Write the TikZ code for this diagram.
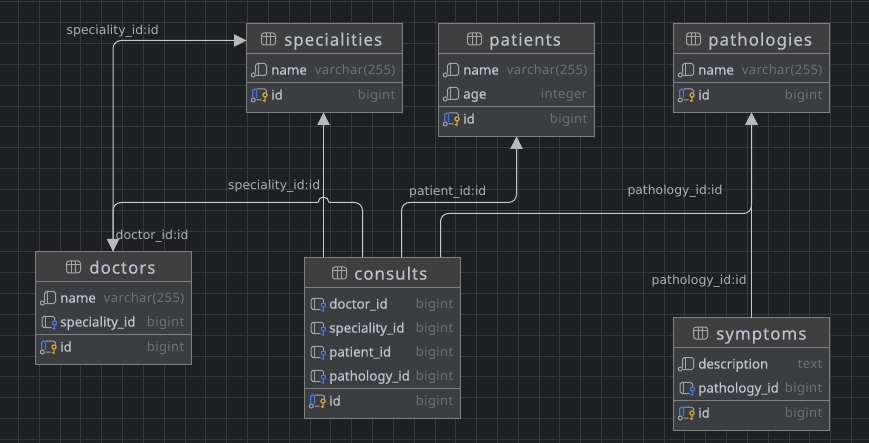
\documentclass[tikz,border=0pt]{standalone}
\usepackage{fontspec}
\usetikzlibrary{arrows.meta}
\setmainfont{Noto Sans}
\newfontfamily\titlefont[LetterSpace=6,FakeBold=0.2]{Noto Sans}
\newfontfamily\rowfont[FakeBold=0.35]{Noto Sans}
\newfontfamily\typefont[LetterSpace=3]{Noto Sans}
\newfontfamily\edgefont{DejaVu Sans}
\definecolor{bgc}{HTML}{1E1F22}
\definecolor{gridc}{HTML}{36383B}
\definecolor{bodyc}{HTML}{3B3D41}
\definecolor{headc}{HTML}{3F3F3F}
\definecolor{borderc}{HTML}{7F8082}
\definecolor{linec}{HTML}{C9CACC}
\definecolor{tipc}{HTML}{B8B9BB}
\definecolor{labelc}{HTML}{ABAEB3}
\definecolor{titlec}{HTML}{BCC3CE}
\definecolor{rowc}{HTML}{BFC4CC}
\definecolor{typec}{HTML}{6E7074}
\definecolor{iconc}{HTML}{A3A5A8}
\definecolor{bluec}{HTML}{4A78D8}
\definecolor{goldc}{HTML}{D5A63F}
\tikzset{
  x=1pt,y=-1pt,
  tbl/.style={draw=borderc,fill=bodyc,line width=1pt,anchor=north west,inner sep=0pt,outer sep=0pt},
  sepline/.style={draw=borderc,line width=1pt},
  titletext/.style={anchor=base west,inner sep=0pt,text=titlec,font=\titlefont\fontsize{16.9}{18}\selectfont},
  rowtext/.style={anchor=base west,inner sep=0pt,text=rowc,font=\rowfont\fontsize{13.3}{16}\selectfont},
  typetext/.style={anchor=base east,inner sep=0pt,text=typec,font=\typefont\fontsize{13}{16}\selectfont},
  edgelabel/.style={anchor=base west,inner sep=0pt,text=labelc,font=\edgefont\fontsize{12.4}{16}\selectfont},
  conn/.style={draw=linec,line width=1pt,rounded corners=8pt},
  tip/.style={-{Triangle[width=12.5pt,length=12.5pt,fill=tipc,color=tipc]}},
  tableicon/.pic={
    \draw[iconc,line width=1pt,rounded corners=2.5pt] (-7,-6) rectangle (7,6);
    \draw[iconc,line width=1pt] (-7,-2.2) -- (7,-2.2) (-2.4,-6) -- (-2.4,6) (2.4,-6) -- (2.4,6);
  },
  colicon/.pic={
    \draw[iconc,line width=1pt,rounded corners=1.8pt] (9,3.5) -- (9,-6.5) -- (20,-6.5) -- (20,5.5) -- (9.5,5.5);
    \draw[iconc,line width=1pt] (12,-6.5) -- (12,5.5);
    \draw[iconc,line width=1pt] (6.8,5) circle[radius=2pt];
  },
  fkicon/.pic={
    \draw[iconc,line width=1pt,rounded corners=1.8pt] (16,5.5) -- (6.5,5.5) -- (6.5,-5.7) -- (19,-5.7) -- (19,-1.5);
    \draw[iconc,line width=1pt] (10,-5.7) -- (10,5.5);
    \draw[bluec,line width=1.2pt] (19,1) circle[radius=2.1pt] (19,3.1) -- (19,7.8) (19,6.5) -- (16.8,6.5);
  },
  pkicon/.pic={
    \draw[iconc,line width=1pt,rounded corners=1.8pt] (10,-6) -- (20,-6) -- (20,-2.5) (10,5) -- (15,5);
    \draw[bluec,line width=1.2pt,rounded corners=1.5pt] (6.2,2.5) -- (6.2,-6) -- (10,-6) -- (10,2.8);
    \draw[iconc,line width=1pt] (6.8,5) circle[radius=2pt];
    \draw[goldc,line width=1.2pt] (18.5,0) circle[radius=2.1pt] (18.5,2.1) -- (18.5,7.2) (18.5,5.8) -- (16.3,5.8);
  }
}
\newcommand{\dbbox}[7]{% name,x0,y0,x1,y1,headerbottom,sep
  \pgfmathsetmacro{\bw}{#4-#2}\pgfmathsetmacro{\bh}{#5-#3}
  \node[tbl,minimum width=\bw pt,minimum height=\bh pt] (#1) at (#2,#3) {};
  \fill[headc] (#2+.5,#3+.5) rectangle (#4-.5,#6);
  \draw[sepline] (#2+.5,#6) -- (#4-.5,#6);
  \draw[sepline] (#2+.5,#7) -- (#4-.5,#7);
}
\newcommand{\dbtitle}[5]{% name, iconcentre x, text x, y baseline, text
  \pic at (#2,#4-6) {tableicon};
  \node[titletext] (#1-title) at (#3,#4+.6) {#5};
}
\newcommand{\dbrow}[7]{% id, x0, x1, rowy, icon, text, type
  \pic at (#2,#4) {#5};
  \node[rowtext] (#1-c) at (#2+24.5,#4+4.6) {#6};
  \node[typetext] (#1-t) at (#3-7,#4+4.6) {#7};
}
\begin{document}
\begin{tikzpicture}
\useasboundingbox (0,0) rectangle (869,443);
\fill[bgc] (0,0) rectangle (869,443);
\foreach \k in {0,...,41} {
  \pgfmathsetmacro{\gx}{18.3+20.83*\k}
  \draw[gridc,line width=.8pt] (\gx,0) -- (\gx,443);
}
\foreach \k in {-1,0,...,20} {
  \pgfmathsetmacro{\gy}{22.7+20.83*\k}
  \draw[gridc,line width=.8pt] (0,\gy) -- (869,\gy);
}

\dbbox{specialities}{246.5}{23.5}{402.5}{112.5}{53.5}{82.5}
\dbtitle{specialities}{268.5}{284}{45}{specialities}
\dbrow{sp1}{246.5}{402.5}{70}{colicon}{name}{varchar(255)}
\dbrow{sp2}{246.5}{402.5}{95}{pkicon}{id}{bigint}

\dbbox{patients}{438.5}{23.5}{594.5}{136.5}{53.5}{106.5}
\dbtitle{patients}{474.5}{489}{45}{patients}
\dbrow{pa1}{438.5}{594.5}{70}{colicon}{name}{varchar(255)}
\dbrow{pa2}{438.5}{594.5}{94}{colicon}{age}{integer}
\dbrow{pa3}{438.5}{594.5}{119}{pkicon}{id}{bigint}

\dbbox{pathologies}{673.5}{23.5}{829.5}{112.5}{53.5}{82.5}
\dbtitle{pathologies}{693.5}{708}{45}{pathologies}
\dbrow{pt1}{673.5}{829.5}{70}{colicon}{name}{varchar(255)}
\dbrow{pt2}{673.5}{829.5}{95}{pkicon}{id}{bigint}

\dbbox{doctors}{35.5}{251.5}{191.5}{364.5}{281.5}{334.5}
\dbtitle{doctors}{73.5}{89}{273}{doctors}
\dbrow{do1}{35.5}{191.5}{298}{colicon}{name}{varchar(255)}
\dbrow{do2}{35.5}{191.5}{322}{fkicon}{speciality\_id}{bigint}
\dbrow{do3}{35.5}{191.5}{347}{pkicon}{id}{bigint}

\dbbox{consults}{304.5}{257.5}{460.5}{418.5}{287.5}{388.5}
\dbtitle{consults}{339.5}{354}{279}{consults}
\dbrow{co1}{304.5}{460.5}{304}{fkicon}{doctor\_id}{bigint}
\dbrow{co2}{304.5}{460.5}{328}{fkicon}{speciality\_id}{bigint}
\dbrow{co3}{304.5}{460.5}{352}{fkicon}{patient\_id}{bigint}
\dbrow{co4}{304.5}{460.5}{376}{fkicon}{pathology\_id}{bigint}
\dbrow{co5}{304.5}{460.5}{401}{pkicon}{id}{bigint}

\dbbox{symptoms}{673.5}{317.5}{829.5}{430.5}{347.5}{400.5}
\dbtitle{symptoms}{700.5}{716}{339}{symptoms}
\dbrow{sy1}{673.5}{829.5}{364}{colicon}{description}{text}
\dbrow{sy2}{673.5}{829.5}{388}{fkicon}{pathology\_id}{bigint}
\dbrow{sy3}{673.5}{829.5}{413}{pkicon}{id}{bigint}

% connectors
\coordinate (a1) at (113,40.5);
\coordinate (a2) at (362.5,202.5);
\coordinate (a3) at (113,202.5);
\coordinate (a4) at (401.5,202.5);
\coordinate (a5) at (516.5,202.5);
\coordinate (a6) at (440.5,213.5);
\coordinate (a7) at (751.5,213.5);
\coordinate (h1) at (329,202.5);
\coordinate (h2) at (318,202.5);

\draw[conn,tip] ([xshift=77.5pt]doctors.north west) -- (a1) -- ([yshift=-17pt]specialities.north west);
\draw[conn] ([xshift=58pt]consults.north west) -- (a2) -- (h1);
\draw[draw=linec,line width=1pt] (h1) arc[start angle=0,end angle=180,radius=5.5pt];
\draw[conn,tip] (h2) -- (a3) -- ([xshift=77.5pt]doctors.north west);
\draw[conn,tip] ([xshift=19pt]consults.north west) -- ([xshift=77pt]specialities.south west);
\draw[conn,tip] ([xshift=97pt]consults.north west) -- (a4) -- (a5) -- ([xshift=78pt]patients.south west);
\draw[conn,tip] ([xshift=136pt]consults.north west) -- (a6) -- (a7) -- ([xshift=78pt]pathologies.south west);
\draw[conn,tip] ([xshift=78pt]symptoms.north west) -- ([xshift=78pt]pathologies.south west);

\node[edgelabel] (l1) at (66.5,35) {speciality\_id:id};
\node[edgelabel] (l2) at (228,189.3) {speciality\_id:id};
\node[edgelabel] (l3) at (409,196) {patient\_id:id};
\node[edgelabel] (l4) at (627.3,195) {pathology\_id:id};
\node[edgelabel] (l5) at (651.5,284) {pathology\_id:id};
\node[edgelabel] (l6) at (115.5,240) {doctor\_id:id};
\end{tikzpicture}
\end{document}
